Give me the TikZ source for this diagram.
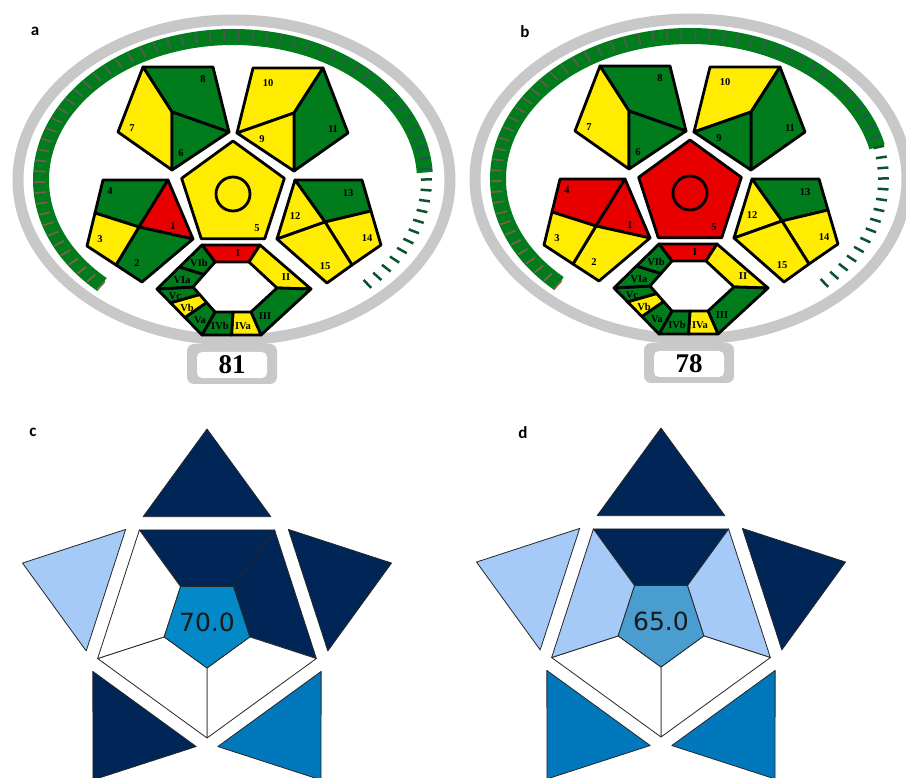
\documentclass[tikz,border=0pt]{standalone}
\usepackage{fontspec}
\setmainfont{Liberation Serif}
\newfontfamily\panelfont{Carlito}
\newfontfamily\valuefont{DejaVu Sans}

\definecolor{gapigreen}{RGB}{0,124,28}
\definecolor{gapiyellow}{RGB}{255,236,0}
\definecolor{gapired}{RGB}{232,0,0}
\definecolor{ringgray}{RGB}{200,200,200}
\definecolor{tickbrown}{RGB}{140,98,72}
\definecolor{tickslate}{RGB}{30,80,92}
\definecolor{tickgreen}{RGB}{10,82,48}
\definecolor{navyblue}{RGB}{0,37,87}
\definecolor{paleblue}{RGB}{166,202,248}
\definecolor{midblue}{RGB}{0,120,187}

\tikzset{
  cell/.style={draw=black, line width=2.8pt, line join=round},
  cellnum/.style={font=\bfseries\fontsize{10.5}{10.5}\selectfont, inner sep=0pt},
  scorenum/.style={font=\bfseries\fontsize{27}{27}\selectfont, inner sep=0pt},
  panelletter/.style={font=\panelfont\bfseries\fontsize{17}{17}\selectfont, inner sep=0pt},
  gapiring/.style={draw=ringgray, line width=11pt},
  starcell/.style={draw=black!85, line width=0.8pt, line join=round},
  starvalue/.style={font=\valuefont\fontsize{25}{25}\selectfont, text=black!90, inner sep=0pt},
}

% one ComplexGAPI pictogram: shift, prefix, score, end angle of the green arc
\newcommand{\gapipanel}[4]{%
\begin{scope}[shift={(#1)}, name prefix=#2-]
  \draw[gapiring] (234,180) ellipse [x radius=216, y radius=160];
  \fill[ringgray, rounded corners=7pt] (187,344) rectangle (277,384);
  \fill[white, rounded corners=5pt] (197,352) rectangle (267,378);
  \node[scorenum] (score) at (232,365) {#3};
  % gauge
  \begin{scope}[shift={(233,180)}]
    \draw[gapigreen, line width=16pt] (-227:192 and 143) arc[start angle=-227, end angle=#4, x radius=192, y radius=143];
    \foreach \k in {0,...,65}{
      \pgfmathsetmacro{\t}{-227+4.2*\k}
      \pgfmathtruncatemacro{\ingreen}{\t<#4}
      \pgfmathtruncatemacro{\mix}{max(0,100-100*\k/56)}
      \ifnum\ingreen=1
        \draw[line width=1.7pt, tickbrown!\mix!tickslate] (\t:199 and 150) -- (\t:188 and 139);
      \else
        \draw[line width=2.5pt, tickgreen] (\t:199 and 150) -- (\t:188 and 139);
      \fi
    }
  \end{scope}
  % upper left pentagon
  \filldraw[cell, fill=gapigreen] (143,67) -- (213,67) -- (229,132) -- (172,112) -- cycle;
  \filldraw[cell, fill=gapiyellow] (143,67) -- (172,112) -- (172,170) -- (118,132) -- cycle;
  \filldraw[cell, fill=gapigreen] (172,112) -- (229,132) -- (172,170) -- cycle;
  % upper right pentagon
  \filldraw[cell, fill=gapiyellow] (253,68) -- (323,68) -- (294,113) -- (237,133) -- cycle;
  \filldraw[cell, fill=gapigreen] (323,68) -- (348,133) -- (294,171) -- (294,113) -- cycle;
  \filldraw[cell, fill=reg9] (237,133) -- (294,113) -- (294,171) -- cycle;
  % left pentagon
  \filldraw[cell, fill=reg4] (103,180) -- (168,180) -- (139,227) -- (95,213) -- cycle;
  \filldraw[cell, fill=reg1] (168,180) -- (193,239) -- (139,227) -- cycle;
  \filldraw[cell, fill=reg2] (139,227) -- (193,239) -- (142,282) -- (116,265) -- cycle;
  \filldraw[cell, fill=reg3] (95,213) -- (139,227) -- (116,265) -- (87,246) -- cycle;
  % right pentagon
  \filldraw[cell, fill=gapigreen] (295,180) -- (362,180) -- (371,211) -- (325,222) -- cycle;
  \filldraw[cell, fill=gapiyellow] (295,180) -- (325,222) -- (277,239) -- cycle;
  \filldraw[cell, fill=gapiyellow] (325,222) -- (371,211) -- (381,245) -- (352,265) -- cycle;
  \filldraw[cell, fill=gapiyellow] (277,239) -- (325,222) -- (352,265) -- (327,283) -- cycle;
  % central pentagon
  \filldraw[cell, fill=reg5, shift={(233,195)}] (-90:54) -- (-18:54) -- (54:54) -- (126:54) -- (198:54) -- cycle;
  \draw[line width=2.8pt] (233,194) circle[radius=17];
  % hexagon
  \filldraw[cell, fill=gapired] (202,245) -- (260,245) -- (249,262) -- (215,262) -- cycle;
  \filldraw[cell, fill=gapiyellow] (260,245) -- (311,289) -- (277,288) -- (249,262) -- cycle;
  \filldraw[cell, fill=gapigreen] (311,289) -- (261,335) -- (251,312) -- (277,288) -- cycle;
  \filldraw[cell, fill=gapiyellow] (261,335) -- (231.5,335) -- (233,312) -- (251,312) -- cycle;
  \filldraw[cell, fill=gapigreen] (231.5,335) -- (202,335) -- (215,312) -- (233,312) -- cycle;
  \filldraw[cell, fill=gapigreen] (202,335) -- (184.9,317.5) -- (206.6,302.5) -- (215,312) -- cycle;
  \filldraw[cell, fill=gapiyellow] (184.9,317.5) -- (170.5,302.8) -- (199.6,294.5) -- (206.6,302.5) -- cycle;
  \filldraw[cell, fill=gapigreen] (170.5,302.8) -- (157,289) -- (193,287) -- (199.6,294.5) -- cycle;
  \filldraw[cell, fill=gapigreen] (157,289) -- (179.5,267) -- (204,274.5) -- (193,287) -- cycle;
  \filldraw[cell, fill=gapigreen] (179.5,267) -- (202,245) -- (215,262) -- (204,274.5) -- cycle;
  % labels
  \node[cellnum] (n1) at (173,226) {1};
  \node[cellnum] (n2) at (137,263) {2};
  \node[cellnum] (n3) at (100,239) {3};
  \node[cellnum] (n4) at (110,191) {4};
  \node[cellnum] (n5) at (257,228) {5};
  \node[cellnum] (n6) at (181,153) {6};
  \node[cellnum] (n7) at (132,128) {7};
  \node[cellnum] (n8) at (203,79) {8};
  \node[cellnum] (n9) at (262,139) {9};
  \node[cellnum] (n10) at (268,83) {10};
  \node[cellnum] (n11) at (333,129) {11};
  \node[cellnum] (n12) at (295,216) {12};
  \node[cellnum] (n13) at (348,193) {13};
  \node[cellnum] (n14) at (367,238) {14};
  \node[cellnum] (n15) at (325,266) {15};
  \node[cellnum] (hI) at (238,253) {I};
  \node[cellnum] (hII) at (286,277) {II};
  \node[cellnum] (hIII) at (265,316) {III};
  \node[cellnum] (hIVa) at (243,326) {IVa};
  \node[cellnum] (hIVb) at (220,326) {IVb};
  \node[cellnum] (hVa) at (200,320) {Va};
  \node[cellnum] (hVb) at (187,308) {Vb};
  \node[cellnum] (hVc) at (175,296) {Vc};
  \node[cellnum] (hVIa) at (182,280) {VIa};
  \node[cellnum] (hVIb) at (199,263) {VIb};
\end{scope}}

% one star pictogram: shift, prefix, value
\newcommand{\starpanel}[3]{%
\begin{scope}[shift={(#1)}, name prefix=#2-]
  \begin{scope}[shift={(207,623)}]
    \foreach \p/\col in {270/triT, 342/triUR, 54/triLR, 126/triLL, 198/triUL}
      \filldraw[starcell, fill=\col] (\p-31:124) -- (\p:194) -- (\p+31:124) -- cycle;
    \foreach \a/\col in {234/segT, 306/segUR, 18/segLR, 90/segLL, 162/segUL}
      \filldraw[starcell, fill=\col] (\a:115) -- (\a+72:115) -- (\a+72:45) -- (\a:45) -- cycle;
    \filldraw[starcell, fill=core] (18:45) -- (90:45) -- (162:45) -- (234:45) -- (306:45) -- cycle;
  \end{scope}
  \node[starvalue] (value) at (207,622) {#3};
\end{scope}}

\begin{document}
\begin{tikzpicture}[x=1pt,y=-1pt]
\useasboundingbox (0,0) rectangle (906,778);
\fill[white] (0,0) rectangle (906,778);

\colorlet{reg1}{gapired}\colorlet{reg2}{gapigreen}\colorlet{reg3}{gapiyellow}
\colorlet{reg4}{gapigreen}\colorlet{reg5}{gapiyellow}\colorlet{reg9}{gapiyellow}
\gapipanel{0,0}{a}{81}{-3}
\colorlet{reg2}{gapiyellow}\colorlet{reg4}{gapired}
\colorlet{reg5}{gapired}\colorlet{reg9}{gapigreen}
\gapipanel{457,-1}{b}{78}{-13}

\colorlet{triT}{navyblue}\colorlet{triUR}{navyblue}\colorlet{triLR}{midblue}
\colorlet{triLL}{navyblue}\colorlet{triUL}{paleblue}
\colorlet{segT}{navyblue}\colorlet{segUR}{navyblue}\colorlet{segLR}{white}
\colorlet{segLL}{white}\colorlet{segUL}{white}
\definecolor{core}{RGB}{3,137,199}
\starpanel{0,0}{c}{70.0}
\colorlet{triLL}{midblue}
\colorlet{segUR}{paleblue}\colorlet{segUL}{paleblue}
\definecolor{core}{RGB}{74,157,207}
\starpanel{454,-1}{d}{65.0}

\node[panelletter] (la) at (35,31) {a};
\node[panelletter] (lb) at (525,32) {b};
\node[panelletter] (lc) at (33,432) {c};
\node[panelletter] (ld) at (523,433) {d};
\end{tikzpicture}
\end{document}
